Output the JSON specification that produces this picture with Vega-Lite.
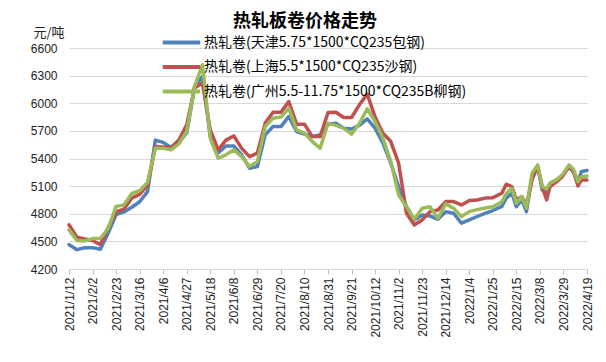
{
  "$schema": "https://vega.github.io/schema/vega-lite/v6.json",
  "width": 518,
  "height": 221,
  "autosize": {"type": "none"},
  "padding": {"left": 69, "top": 48, "right": 19, "bottom": 93},
  "background": "white",
  "config": {"view": {"stroke": null}, "font": "Noto Sans CJK SC"},
  "title": {"text": "热轧板卷价格走势", "fontSize": 18, "fontWeight": "bold", "font": "Noto Sans CJK SC", "color": "#000", "anchor": "middle", "frame": "group", "dx": -23, "dy": 5, "offset": 0},
  "data": {"values": [
    {"d": "2021-01-12", "tj": 4465, "sh": 4680, "gz": 4625},
    {"d": "2021-01-19", "tj": 4410, "sh": 4545, "gz": 4510},
    {"d": "2021-01-26", "tj": 4430, "sh": 4525, "gz": 4505},
    {"d": "2021-02-02", "tj": 4432, "sh": 4510, "gz": 4530},
    {"d": "2021-02-09", "tj": 4415, "sh": 4465, "gz": 4534},
    {"d": "2021-02-16", "tj": 4590, "sh": 4650, "gz": 4640},
    {"d": "2021-02-23", "tj": 4790, "sh": 4820, "gz": 4880},
    {"d": "2021-03-02", "tj": 4820, "sh": 4850, "gz": 4896},
    {"d": "2021-03-09", "tj": 4870, "sh": 4970, "gz": 5020},
    {"d": "2021-03-16", "tj": 4930, "sh": 5010, "gz": 5050},
    {"d": "2021-03-23", "tj": 5040, "sh": 5110, "gz": 5140},
    {"d": "2021-03-30", "tj": 5600, "sh": 5530, "gz": 5512},
    {"d": "2021-04-06", "tj": 5575, "sh": 5525, "gz": 5510},
    {"d": "2021-04-13", "tj": 5520, "sh": 5520, "gz": 5494},
    {"d": "2021-04-20", "tj": 5580, "sh": 5600, "gz": 5560},
    {"d": "2021-04-27", "tj": 5675, "sh": 5765, "gz": 5693},
    {"d": "2021-05-04", "tj": 6180, "sh": 6165, "gz": 6180},
    {"d": "2021-05-11", "tj": 6290, "sh": 6220, "gz": 6418},
    {"d": "2021-05-18", "tj": 5640, "sh": 5710, "gz": 5620},
    {"d": "2021-05-25", "tj": 5460, "sh": 5495, "gz": 5403},
    {"d": "2021-06-01", "tj": 5537, "sh": 5600, "gz": 5440},
    {"d": "2021-06-08", "tj": 5537, "sh": 5645, "gz": 5494},
    {"d": "2021-06-15", "tj": 5440, "sh": 5510, "gz": 5421},
    {"d": "2021-06-22", "tj": 5295, "sh": 5420, "gz": 5312},
    {"d": "2021-06-29", "tj": 5313, "sh": 5458, "gz": 5366},
    {"d": "2021-07-06", "tj": 5656, "sh": 5784, "gz": 5747},
    {"d": "2021-07-13", "tj": 5747, "sh": 5903, "gz": 5838},
    {"d": "2021-07-20", "tj": 5747, "sh": 5903, "gz": 5850},
    {"d": "2021-07-27", "tj": 5856, "sh": 6019, "gz": 5947},
    {"d": "2021-08-03", "tj": 5693, "sh": 5773, "gz": 5711},
    {"d": "2021-08-10", "tj": 5664, "sh": 5773, "gz": 5675},
    {"d": "2021-08-17", "tj": 5638, "sh": 5638, "gz": 5584},
    {"d": "2021-08-24", "tj": 5656, "sh": 5638, "gz": 5512},
    {"d": "2021-08-31", "tj": 5773, "sh": 5900, "gz": 5784},
    {"d": "2021-09-07", "tj": 5784, "sh": 5903, "gz": 5760},
    {"d": "2021-09-14", "tj": 5729, "sh": 5845, "gz": 5729},
    {"d": "2021-09-21", "tj": 5720, "sh": 5845, "gz": 5664},
    {"d": "2021-09-28", "tj": 5760, "sh": 5983, "gz": 5780},
    {"d": "2021-10-05", "tj": 5830, "sh": 6099, "gz": 5940},
    {"d": "2021-10-12", "tj": 5729, "sh": 5850, "gz": 5801},
    {"d": "2021-10-19", "tj": 5566, "sh": 5675, "gz": 5620},
    {"d": "2021-10-26", "tj": 5349, "sh": 5584, "gz": 5366},
    {"d": "2021-11-02", "tj": 5095, "sh": 5349, "gz": 5004},
    {"d": "2021-11-09", "tj": 4877, "sh": 4805, "gz": 4877},
    {"d": "2021-11-16", "tj": 4733, "sh": 4678, "gz": 4740},
    {"d": "2021-11-23", "tj": 4787, "sh": 4733, "gz": 4860},
    {"d": "2021-11-30", "tj": 4776, "sh": 4823, "gz": 4877},
    {"d": "2021-12-07", "tj": 4740, "sh": 4841, "gz": 4751},
    {"d": "2021-12-14", "tj": 4823, "sh": 4932, "gz": 4907},
    {"d": "2021-12-21", "tj": 4805, "sh": 4932, "gz": 4860},
    {"d": "2021-12-28", "tj": 4697, "sh": 4896, "gz": 4770},
    {"d": "2022-01-04", "tj": 4733, "sh": 4943, "gz": 4823},
    {"d": "2022-01-11", "tj": 4770, "sh": 4950, "gz": 4845},
    {"d": "2022-01-18", "tj": 4805, "sh": 4970, "gz": 4862},
    {"d": "2022-01-25", "tj": 4835, "sh": 4975, "gz": 4875},
    {"d": "2022-02-02", "tj": 4880, "sh": 5023, "gz": 4930},
    {"d": "2022-02-06", "tj": 4970, "sh": 5121, "gz": 5020},
    {"d": "2022-02-11", "tj": 5023, "sh": 5095, "gz": 5077},
    {"d": "2022-02-15", "tj": 4877, "sh": 4950, "gz": 4914},
    {"d": "2022-02-20", "tj": 4950, "sh": 4986, "gz": 4986},
    {"d": "2022-02-24", "tj": 4823, "sh": 4896, "gz": 4860},
    {"d": "2022-03-01", "tj": 5203, "sh": 5167, "gz": 5240},
    {"d": "2022-03-06", "tj": 5312, "sh": 5320, "gz": 5330},
    {"d": "2022-03-10", "tj": 5059, "sh": 5095, "gz": 5095},
    {"d": "2022-03-14", "tj": 5023, "sh": 4950, "gz": 5070},
    {"d": "2022-03-17", "tj": 5131, "sh": 5095, "gz": 5131},
    {"d": "2022-03-23", "tj": 5170, "sh": 5149, "gz": 5170},
    {"d": "2022-03-28", "tj": 5210, "sh": 5203, "gz": 5222},
    {"d": "2022-04-03", "tj": 5312, "sh": 5312, "gz": 5330},
    {"d": "2022-04-07", "tj": 5250, "sh": 5258, "gz": 5280},
    {"d": "2022-04-11", "tj": 5149, "sh": 5102, "gz": 5149},
    {"d": "2022-04-14", "tj": 5258, "sh": 5167, "gz": 5203},
    {"d": "2022-04-19", "tj": 5269, "sh": 5167, "gz": 5210}
  ]},
  "transform": [{"fold": ["tj", "sh", "gz"], "as": ["series", "price"]}],
  "mark": {"type": "line", "strokeWidth": 3.5, "strokeJoin": "round", "strokeCap": "round"},
  "encoding": {
    "x": {
      "field": "d", "type": "temporal",
      "scale": {"type": "utc", "nice": false, "domain": [{"year": 2021, "month": 1, "date": 12, "utc": true}, {"year": 2022, "month": 4, "date": 19, "utc": true}]},
      "axis": {
        "title": null, "grid": false, "format": "%Y/%-m/%-d",
        "values": [
          {"year": 2021, "month": 1, "date": 12, "utc": true},
          {"year": 2021, "month": 2, "date": 2, "utc": true},
          {"year": 2021, "month": 2, "date": 23, "utc": true},
          {"year": 2021, "month": 3, "date": 16, "utc": true},
          {"year": 2021, "month": 4, "date": 6, "utc": true},
          {"year": 2021, "month": 4, "date": 27, "utc": true},
          {"year": 2021, "month": 5, "date": 18, "utc": true},
          {"year": 2021, "month": 6, "date": 8, "utc": true},
          {"year": 2021, "month": 6, "date": 29, "utc": true},
          {"year": 2021, "month": 7, "date": 20, "utc": true},
          {"year": 2021, "month": 8, "date": 10, "utc": true},
          {"year": 2021, "month": 8, "date": 31, "utc": true},
          {"year": 2021, "month": 9, "date": 21, "utc": true},
          {"year": 2021, "month": 10, "date": 12, "utc": true},
          {"year": 2021, "month": 11, "date": 2, "utc": true},
          {"year": 2021, "month": 11, "date": 23, "utc": true},
          {"year": 2021, "month": 12, "date": 14, "utc": true},
          {"year": 2022, "month": 1, "date": 4, "utc": true},
          {"year": 2022, "month": 1, "date": 25, "utc": true},
          {"year": 2022, "month": 2, "date": 15, "utc": true},
          {"year": 2022, "month": 3, "date": 8, "utc": true},
          {"year": 2022, "month": 3, "date": 29, "utc": true},
          {"year": 2022, "month": 4, "date": 19, "utc": true}
        ],
        "labelAngle": -90, "labelAlign": "right", "labelBaseline": "middle",
        "labelFont": "Liberation Sans", "labelFontSize": 12, "labelColor": "#222",
        "labelOverlap": false, "labelFlush": false, "labelPadding": 3,
        "domainColor": "#D9D9D9", "tickColor": "#BFBFBF", "tickSize": 5
      }
    },
    "y": {
      "field": "price", "type": "quantitative",
      "scale": {"domain": [4200, 6600], "nice": false, "zero": false},
      "axis": {
        "values": [4200, 4500, 4800, 5100, 5400, 5700, 6000, 6300, 6600],
        "format": "d",
        "grid": true, "gridColor": "#D9D9D9", "domain": false, "ticks": false,
        "labelFont": "Liberation Sans", "labelFontSize": 12, "labelColor": "#222", "labelPadding": 12,
        "title": "元/吨", "titleAngle": 0, "titleX": -36, "titleY": -16, "titleAlign": "left", "titleBaseline": "middle",
        "titleFont": "Noto Sans CJK SC", "titleFontSize": 13, "titleFontWeight": "normal", "titleColor": "#222"
      }
    },
    "color": {
      "field": "series", "type": "nominal",
      "scale": {"domain": ["tj", "sh", "gz"], "range": ["#4F81BD", "#C0504D", "#9BBB59"]},
      "legend": {
        "orient": "none", "legendX": 103, "legendY": -15, "title": null,
        "symbolType": "M-2.5,0H2.5", "symbolStrokeWidth": 4, "symbolSize": 225,
        "labelFont": "Noto Sans CJK SC", "labelFontSize": 14, "labelColor": "#000", "labelOffset": 13,
        "labelLimit": 0, "rowPadding": 6.5,
        "labelExpr": "datum.value == 'tj' ? '热轧卷(天津5.75*1500*CQ235包钢)' : datum.value == 'sh' ? '热轧卷(上海5.5*1500*CQ235沙钢)' : '热轧卷(广州5.5-11.75*1500*CQ235B柳钢)'"
      }
    }
  }
}
